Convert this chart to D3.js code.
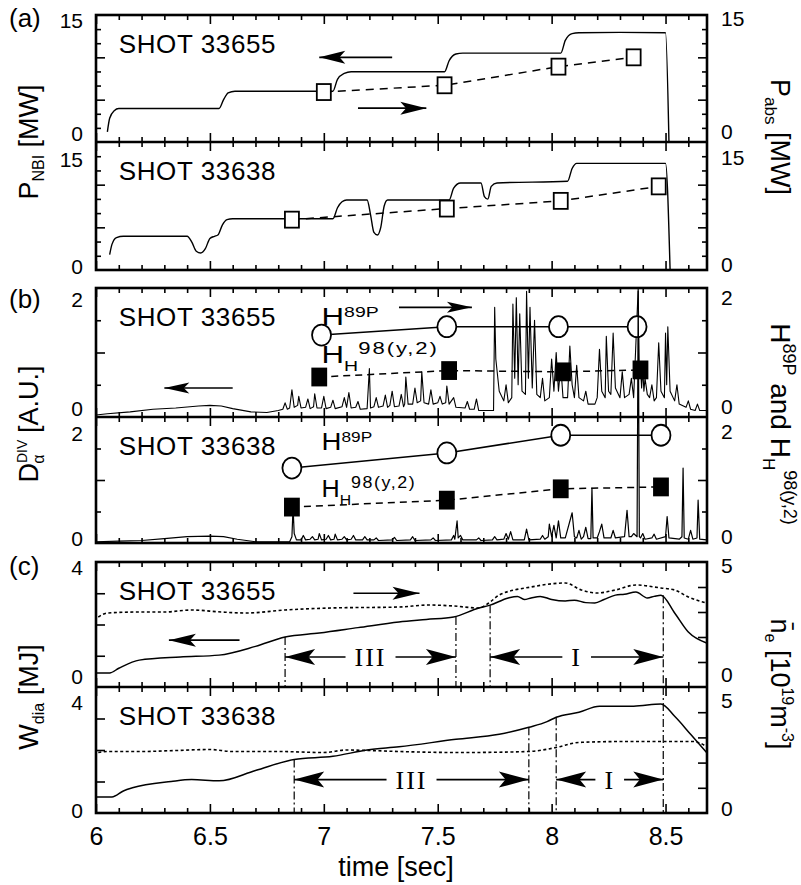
<!DOCTYPE html>
<html>
<head>
<meta charset="utf-8">
<script src="https://cdn.jsdelivr.net/npm/d3@7"></script>
<style>
body { margin: 0; background: #fff; }
text { font-family: "Liberation Sans", Arial, sans-serif; fill: #000; }
</style>
</head>
<body>
<div id="chart"></div>
<script>
// ---------------- data ----------------
const timeTicks = [6, 6.5, 7, 7.5, 8, 8.5];
const timeMinor = [6.1, 6.2, 6.3, 6.4, 6.6, 6.7, 6.8, 6.9, 7.1, 7.2, 7.3, 7.4, 7.6, 7.7, 7.8, 7.9, 8.1, 8.2, 8.3, 8.4, 8.6];
const shotNames = ["SHOT 33655", "SHOT 33638"];

const pMajor = [5, 10];
const pMinor = [1.667, 3.333, 6.667, 8.333, 11.667, 13.333];
const pLabels = [0, 15];
const hMajor = [1];
const hMinor = [0.5, 1.5];
const hLabels = [0, 2];
const wMajor = [1, 2, 3];
const wLabels = [0, 4];
const nMajor = [1, 2, 3, 4];
const nLabels = [0, 5];

// (a) NBI power [t, MW] and absorbed power
const pnbi33655 = [[6.05,1.2],[6.06,2.8],[6.08,3.7],[6.1,3.95],[6.54,3.95],[6.56,5.0],[6.58,5.8],[6.61,6.0],[7.04,6.0],[7.06,7.4],[7.09,8.1],[7.12,8.3],[7.53,8.3],[7.55,9.6],[7.58,10.4],[7.61,10.5],[8.04,10.5],[8.06,12.0],[8.09,12.8],[8.12,12.9],[8.3,12.95],[8.5,12.9],[8.515,0.0]];
const pabs33655 = [[7.0,5.9],[7.53,6.7],[8.03,8.9],[8.36,10.0]];
const pnbi33638 = [[6.06,1.8],[6.07,3.0],[6.09,3.8],[6.12,3.95],[6.4,3.95],[6.42,3.3],[6.44,2.2],[6.46,2.0],[6.48,2.5],[6.5,3.7],[6.52,3.95],[6.535,4.1],[6.555,5.3],[6.575,5.9],[6.6,6.0],[7.04,6.0],[7.06,7.3],[7.08,8.0],[7.1,8.2],[7.19,8.2],[7.205,6.5],[7.22,4.4],[7.235,4.1],[7.25,5.0],[7.265,7.5],[7.28,8.2],[7.55,8.2],[7.57,9.6],[7.6,10.2],[7.69,10.2],[7.705,8.6],[7.72,8.3],[7.735,9.8],[7.76,10.2],[8.07,10.4],[8.09,11.9],[8.11,12.5],[8.5,12.5],[8.52,0.0]];
const pabs33638 = [[6.86,5.9],[7.54,7.2],[8.04,8.1],[8.47,9.8]];

// (b) divertor D-alpha [t, A.U.] and confinement factors
const dalpha33655 = [[6.0,0.03],[6.05,0.05],[6.15,0.08],[6.25,0.12],[6.35,0.14],[6.45,0.17],[6.5,0.18],[6.55,0.17],[6.6,0.13],[6.68,0.08],[6.75,0.07],[6.8,0.1],
  [6.82,0.12],[6.83,0.22],[6.84,0.12],[6.85,0.14],[6.86,0.42],[6.87,0.15],[6.885,0.18],[6.89,0.32],[6.9,0.14],[6.92,0.15],[6.93,0.28],[6.94,0.13],
  [6.955,0.16],[6.96,0.36],[6.97,0.14],[6.99,0.14],[7.0,0.32],[7.01,0.13],[7.03,0.15],[7.04,0.26],[7.05,0.13],[7.08,0.16],[7.09,0.3],[7.1,0.15],
  [7.11,0.38],[7.12,0.14],[7.14,0.15],[7.15,0.24],[7.16,0.12],[7.19,0.13],[7.2,0.75],[7.205,0.14],[7.22,0.16],[7.23,0.3],[7.24,0.15],
  [7.26,0.17],[7.27,0.34],[7.28,0.15],[7.29,0.18],[7.3,0.4],[7.31,0.16],[7.33,0.17],[7.34,0.35],[7.35,0.16],[7.355,0.2],[7.36,0.62],[7.37,0.2],
  [7.39,0.2],[7.4,0.45],[7.41,0.22],[7.425,0.25],[7.43,0.7],[7.44,0.22],[7.46,0.2],[7.47,0.42],[7.48,0.2],[7.5,0.22],[7.51,0.32],[7.52,0.2],
  [7.535,0.22],[7.54,0.48],[7.55,0.2],[7.56,0.25],[7.57,0.3],[7.58,0.15],[7.62,0.14],[7.63,0.24],[7.64,0.12],[7.66,0.12],[7.67,0.28],[7.68,0.1],[7.745,0.1],
  [7.75,1.7],[7.755,0.9],[7.77,0.4],[7.79,0.25],[7.8,0.5],[7.81,0.22],[7.825,0.3],[7.83,1.75],[7.838,0.6],[7.845,1.85],[7.853,0.5],[7.86,1.6],[7.87,0.4],
  [7.885,0.35],[7.89,1.95],[7.898,0.6],[7.905,1.7],[7.915,0.45],[7.925,1.5],[7.935,0.35],[7.95,0.3],[7.96,0.6],[7.97,0.25],
  [7.99,0.3],[8.0,0.9],[8.01,0.4],[8.02,1.0],[8.03,0.4],[8.04,0.8],[8.05,0.3],[8.07,0.3],[8.08,1.1],[8.09,0.5],[8.1,0.3],[8.11,0.8],[8.12,0.3],
  [8.14,0.25],[8.15,0.4],[8.16,0.2],[8.19,0.2],[8.2,0.3],[8.21,1.05],[8.22,0.4],[8.235,0.3],[8.24,1.25],[8.25,0.4],[8.26,0.35],[8.27,1.3],[8.28,0.45],
  [8.3,0.3],[8.31,0.7],[8.32,0.3],[8.34,0.35],[8.35,0.6],[8.36,0.3],[8.38,2.0],[8.385,0.6],[8.39,0.8],[8.395,0.45],[8.4,0.75],[8.405,0.4],[8.41,0.6],[8.42,0.35],
  [8.43,0.3],[8.44,0.5],[8.45,0.25],[8.46,0.3],[8.47,1.15],[8.48,0.4],[8.495,0.3],[8.5,1.3],[8.505,0.5],[8.51,1.4],[8.52,0.4],
  [8.54,0.25],[8.55,0.5],[8.56,0.2],[8.59,0.15],[8.6,0.25],[8.61,0.12],[8.63,0.1],[8.64,0.2],[8.65,0.1],[8.68,0.1]];
const h89p33655 = [[6.99,1.27],[7.54,1.40],[8.03,1.40],[8.375,1.40]];
const hh98_33655 = [[6.98,0.62],[7.55,0.72],[8.05,0.70],[8.39,0.73]];

const dalpha33638 = [[6.0,0.02],[6.1,0.03],[6.2,0.04],[6.3,0.07],[6.4,0.1],[6.5,0.11],[6.56,0.1],[6.62,0.06],[6.7,0.02],[6.85,0.02],
  [6.86,0.1],[6.865,0.56],[6.87,0.15],[6.88,0.05],[6.9,0.05],[6.91,0.12],[6.92,0.05],[6.94,0.06],[6.95,0.1],[6.96,0.05],[6.975,0.06],[6.98,0.15],[6.99,0.05],
  [7.01,0.06],[7.02,0.12],[7.03,0.05],[7.045,0.06],[7.05,0.14],[7.06,0.05],[7.08,0.06],[7.09,0.1],[7.1,0.05],[7.12,0.06],[7.13,0.12],[7.14,0.05],
  [7.17,0.05],[7.18,0.1],[7.19,0.05],[7.22,0.05],[7.23,0.08],[7.24,0.04],[7.3,0.05],[7.31,0.09],[7.32,0.04],[7.38,0.05],[7.39,0.1],[7.4,0.04],
  [7.47,0.05],[7.48,0.08],[7.49,0.04],[7.56,0.05],[7.57,0.12],[7.575,0.06],[7.585,0.35],[7.59,0.08],[7.6,0.12],[7.61,0.05],
  [7.67,0.05],[7.68,0.08],[7.69,0.04],[7.74,0.05],[7.75,0.1],[7.76,0.05],[7.79,0.06],[7.8,0.15],[7.81,0.06],[7.82,0.18],[7.83,0.05],[7.88,0.05],[7.89,0.22],[7.9,0.05],
  [7.95,0.06],[7.96,0.12],[7.97,0.06],[7.985,0.1],[7.99,0.3],[8.0,0.1],[8.01,0.28],[8.02,0.08],[8.03,0.35],[8.04,0.08],[8.06,0.08],[8.09,0.48],[8.1,0.1],
  [8.11,0.08],[8.12,0.2],[8.13,0.06],[8.14,0.1],[8.15,0.25],[8.16,0.07],[8.172,0.07],[8.177,0.87],[8.182,0.08],[8.2,0.08],[8.21,0.18],[8.22,0.3],[8.23,0.08],
  [8.26,0.08],[8.27,0.2],[8.28,0.08],[8.32,0.1],[8.331,0.52],[8.34,0.1],[8.35,0.1],[8.36,0.15],[8.375,0.1],[8.38,4.0],[8.385,0.1],[8.39,0.08],[8.4,0.15],[8.41,0.06],
  [8.44,0.08],[8.45,0.14],[8.46,0.06],[8.5,0.1],[8.507,0.42],[8.515,0.08],[8.56,0.06],[8.572,0.1],[8.577,1.19],[8.582,0.08],[8.6,0.06],[8.61,0.2],[8.62,0.06],
  [8.638,0.08],[8.643,0.68],[8.65,0.06],[8.68,0.05]];
const h89p33638 = [[6.86,1.19],[7.54,1.43],[8.04,1.71],[8.48,1.71]];
const hh98_33638 = [[6.86,0.57],[7.54,0.68],[8.04,0.86],[8.48,0.89]];

// (c) diamagnetic stored energy [t, MJ] and line-averaged density [t, 1e19 m^-3]
const wdia33655 = [[6.0,0.45],[6.06,0.45],[6.1,0.6],[6.19,0.86],[6.37,0.96],[6.54,1.02],[6.7,1.3],[6.83,1.6],[6.98,1.73],[7.15,1.9],[7.33,2.08],[7.45,2.16],
  [7.57,2.24],[7.68,2.53],[7.73,2.62],[7.81,2.85],[7.85,2.9],[7.88,2.8],[7.91,2.85],[7.95,2.9],[8.0,2.8],[8.06,2.75],[8.1,2.78],[8.15,2.7],[8.19,2.69],
  [8.23,2.8],[8.28,2.94],[8.32,2.97],[8.37,3.04],[8.42,2.85],[8.45,2.9],[8.48,2.94],[8.54,2.37],[8.6,1.76],[8.68,1.41]];
const ne33655 = [[6.01,2.8],[6.05,2.96],[6.2,3.0],[6.3,3.0],[6.42,3.08],[6.55,3.0],[6.66,2.96],[6.83,3.08],[7.03,3.16],[7.33,3.2],[7.46,3.28],[7.57,3.24],
  [7.68,3.16],[7.73,3.4],[7.77,3.68],[7.91,4.0],[8.06,4.16],[8.13,3.88],[8.2,3.76],[8.28,3.88],[8.37,4.08],[8.48,3.96],[8.54,3.88],[8.6,3.6],[8.68,3.36]];
const wdia33638 = [[6.0,0.51],[6.07,0.51],[6.12,0.7],[6.16,0.8],[6.33,1.0],[6.42,1.06],[6.54,1.02],[6.7,1.35],[6.87,1.7],[7.04,1.8],[7.19,2.0],[7.33,2.1],
  [7.58,2.34],[7.77,2.5],[7.9,2.72],[7.98,2.9],[8.02,3.04],[8.12,3.2],[8.21,3.39],[8.36,3.39],[8.48,3.46],[8.54,3.07],[8.61,2.5],[8.68,1.92]];
const ne33638 = [[6.01,2.4],[6.05,2.44],[6.2,2.44],[6.35,2.48],[6.5,2.52],[6.6,2.44],[6.8,2.44],[7.0,2.4],[7.1,2.5],[7.2,2.48],[7.33,2.44],[7.6,2.4],
  [7.9,2.44],[8.02,2.6],[8.12,2.8],[8.35,2.84],[8.62,2.84],[8.68,2.64]];

// phase boundaries [t, W at top of marker line] and phase spans [label, t0, t1]
const phase33655 = [[6.83,1.6],[7.58,2.24],[7.73,2.62],[8.49,2.94]];
const phase33638 = [[6.87,1.7],[7.90,2.72],[8.02,3.04],[8.49,4.0]];
const spans33655 = [["III",6.83,7.58],["I",7.73,8.49]];
const spans33638 = [["III",6.87,7.90],["I",8.02,8.49]];

// ---------------- layout ----------------
const width = 801, height = 885;
const X0 = 96, X1 = 707;
const x = d3.scaleLinear().domain([6, 8.682]).range([X0, X1]);

const svg = d3.select("#chart").append("svg")
    .attr("width", width)
    .attr("height", height);

function panel(top, bottom, lDom, rDom) {
    return {
        top, bottom,
        yl: d3.scaleLinear().domain(lDom).range([bottom, top]),
        yr: d3.scaleLinear().domain(rDom).range([bottom, top])
    };
}
const a1 = panel(15, 142, [0, 15], [0, 15]);
const a2 = panel(142, 270, [0, 15], [0, 15]);
const b1 = panel(288, 417, [0, 2], [0, 2]);
const b2 = panel(417, 543, [0, 2], [0, 2]);
const c1 = panel(562, 687, [0, 4], [0, 5]);
const c2 = panel(687, 813, [0, 4], [0, 5]);

// ---------------- ticks ----------------
function tickAxis(axis, tr) {
    svg.append("g")
        .attr("transform", tr)
        .call(axis.tickFormat(""))
        .call(g => g.select(".domain").remove())
        .call(g => g.selectAll("line").attr("stroke", "#000").attr("stroke-width", 1.6));
}

function panelTicks(p, lMajor, lMinor, rMajor, rMinor) {
    tickAxis(d3.axisTop(x).tickValues(timeMinor).tickSize(-5), `translate(0,${p.top})`);
    tickAxis(d3.axisTop(x).tickValues(timeTicks).tickSize(-9), `translate(0,${p.top})`);
    tickAxis(d3.axisBottom(x).tickValues(timeMinor).tickSize(-5), `translate(0,${p.bottom})`);
    tickAxis(d3.axisBottom(x).tickValues(timeTicks).tickSize(-9), `translate(0,${p.bottom})`);
    tickAxis(d3.axisLeft(p.yl).tickValues(lMajor).tickSize(-9), `translate(${X0},0)`);
    tickAxis(d3.axisLeft(p.yl).tickValues(lMinor).tickSize(-5), `translate(${X0},0)`);
    tickAxis(d3.axisRight(p.yr).tickValues(rMajor).tickSize(-9), `translate(${X1},0)`);
    tickAxis(d3.axisRight(p.yr).tickValues(rMinor).tickSize(-5), `translate(${X1},0)`);
}
panelTicks(a1, pMajor, pMinor, pMajor, pMinor);
panelTicks(a2, pMajor, pMinor, pMajor, pMinor);
panelTicks(b1, hMajor, hMinor, hMajor, hMinor);
panelTicks(b2, hMajor, hMinor, hMajor, hMinor);
panelTicks(c1, wMajor, [], nMajor, []);
panelTicks(c2, wMajor, [], nMajor, []);

// tick labels, nudged inward like the original
function yLabels(p, labels, rLabels, nudge) {
    labels.forEach((v, i) => {
        svg.append("text").attr("x", 83).attr("y", p.yl(v) + nudge[i])
            .attr("text-anchor", "end").attr("dominant-baseline", "central")
            .style("font-size", "21px").text(v);
    });
    rLabels.forEach((v, i) => {
        svg.append("text").attr("x", 721).attr("y", p.yr(v) + nudge[i] - 2)
            .attr("dominant-baseline", "central")
            .style("font-size", "21px").text(v);
    });
}
yLabels(a1, pLabels, pLabels, [-9, 5]);
yLabels(a2, pLabels, pLabels, [-4, 17]);
yLabels(b1, hLabels, hLabels, [-9, 11]);
yLabels(b2, hLabels, hLabels, [-5, 16]);
yLabels(c1, wLabels, nLabels, [-11, 5]);
yLabels(c2, wLabels, nLabels, [-3, 15]);

svg.append("g")
    .attr("transform", `translate(0,${c2.bottom})`)
    .call(d3.axisBottom(x).tickValues(timeTicks).tickSize(0).tickPadding(14).tickFormat(d3.format("")))
    .call(g => g.select(".domain").remove())
    .call(g => g.selectAll("text").style("font-size", "25px")
        .style("font-family", "'Liberation Sans', Arial, sans-serif"));

svg.append("text").attr("x", 396).attr("y", 876).attr("text-anchor", "middle")
    .style("font-size", "27px").text("time [sec]");

// ---------------- frames ----------------
[[a1, a2], [b1, b2], [c1, c2]].forEach(([p, q]) => {
    svg.append("rect").attr("x", X0).attr("y", p.top)
        .attr("width", X1 - X0).attr("height", q.bottom - p.top)
        .attr("fill", "none").attr("stroke", "#000").attr("stroke-width", 2.6);
    svg.append("line").attr("x1", X0).attr("x2", X1)
        .attr("y1", p.bottom).attr("y2", p.bottom)
        .attr("stroke", "#000").attr("stroke-width", 2.4);
});

// ---------------- marks ----------------
function drawLine(p, data, side, opts) {
    const y = side === "r" ? p.yr : p.yl;
    const line = d3.line().x(d => x(d[0])).y(d => y(d[1]));
    if (opts.curve) line.curve(opts.curve);
    svg.append("path")
        .datum(data)
        .attr("d", line)
        .attr("fill", "none")
        .attr("stroke", "#000")
        .attr("stroke-width", opts.width || 1.4)
        .attr("stroke-dasharray", opts.dash || null)
        .attr("stroke-linejoin", "round");
}

function squares(p, data, side, filled, w, h) {
    const y = side === "r" ? p.yr : p.yl;
    svg.append("g").selectAll("rect").data(data).join("rect")
        .attr("x", d => x(d[0]) - w / 2).attr("y", d => y(d[1]) - h / 2)
        .attr("width", w).attr("height", h)
        .attr("fill", filled ? "#000" : "#fff")
        .attr("stroke", "#000").attr("stroke-width", 1.8);
}

function circles(p, data) {
    svg.append("g").selectAll("ellipse").data(data).join("ellipse")
        .attr("cx", d => x(d[0])).attr("cy", d => p.yr(d[1]))
        .attr("rx", 9.5).attr("ry", 10.5)
        .attr("fill", "#fff").attr("stroke", "#000").attr("stroke-width", 1.8);
}

function arrowHead(px, py, dir, L, hw) {
    svg.append("path")
        .attr("d", `M0,0L${-L},${-hw}L${-L * 0.78},0L${-L},${hw}Z`)
        .attr("transform", `translate(${px},${py}) scale(${dir},1)`)
        .attr("fill", "#000");
}

// arrow from t0 to tip at t1, at value v on panel's left scale
function arrow(p, t0, t1, v, L, hw) {
    const y = p.yl(v);
    svg.append("line").attr("x1", x(t0)).attr("x2", x(t1))
        .attr("y1", y).attr("y2", y)
        .attr("stroke", "#000").attr("stroke-width", 1.6);
    arrowHead(x(t1), y, t1 > t0 ? 1 : -1, L, hw);
}

function shotLabel(p, name) {
    svg.append("text").attr("x", x(6.1)).attr("y", p.top + 38)
        .style("font-size", "26px").style("letter-spacing", "0.6px").text(name);
}

// (a)
drawLine(a1, pnbi33655, "l", {curve: d3.curveMonotoneX});
drawLine(a1, pabs33655, "r", {dash: "8,6", width: 1.5});
squares(a1, pabs33655, "r", false, 14, 16);
drawLine(a2, pnbi33638, "l", {curve: d3.curveMonotoneX});
drawLine(a2, pabs33638, "r", {dash: "8,6", width: 1.5});
squares(a2, pabs33638, "r", false, 14, 16);
arrow(a1, 7.30, 6.98, 10.0, 26, 6.5);
arrow(a1, 7.15, 7.45, 4.0, 26, 6.5);
shotLabel(a1, shotNames[0]);
shotLabel(a2, shotNames[1]);

// (b)
drawLine(b1, dalpha33655, "l", {width: 1.1});
drawLine(b1, h89p33655, "r", {width: 1.5});
drawLine(b1, hh98_33655, "r", {dash: "7,5", width: 1.5});
circles(b1, h89p33655);
squares(b1, hh98_33655, "r", true, 14, 17);
drawLine(b2, dalpha33638, "l", {width: 1.2});
drawLine(b2, h89p33638, "r", {width: 1.5});
drawLine(b2, hh98_33638, "r", {dash: "7,5", width: 1.5});
circles(b2, h89p33638);
squares(b2, hh98_33638, "r", true, 14, 17);
arrow(b1, 6.60, 6.30, 0.45, 25, 5.5);
arrow(b1, 7.33, 7.65, 1.7, 25, 5.5);
shotLabel(b1, shotNames[0]);
shotLabel(b2, shotNames[1]);

// H-factor labels; the original lettering is drawn wide, so stretch it horizontally
function hLabelsText(p, t, v89, v98, sx, sx98) {
    const g1 = svg.append("g").attr("transform", `translate(${x(t)},${p.yr(v89)}) scale(${sx},1)`);
    const t1 = g1.append("text").style("font-size", "24px");
    t1.append("tspan").text("H");
    t1.append("tspan").attr("dy", -8).style("font-size", "15px").text("89P");
    const g2 = svg.append("g").attr("transform", `translate(${x(t)},${p.yr(v98)}) scale(${sx98},1)`);
    const t2 = g2.append("text").style("font-size", "24px");
    t2.append("tspan").text("H");
    t2.append("tspan").attr("dy", 8).style("font-size", "15px").text("H");
    t2.append("tspan").attr("dy", -17).style("font-size", "17px")
        .style("letter-spacing", "1.5px").text("98(y,2)");
}
hLabelsText(b1, 6.99, 1.43, 0.84, 1.3, 1.3);
hLabelsText(b2, 6.99, 1.48, 0.73, 1.15, 1.05);

// (c)
drawLine(c1, wdia33655, "l", {curve: d3.curveMonotoneX, width: 1.5});
drawLine(c1, ne33655, "r", {curve: d3.curveMonotoneX, dash: "3,2.5", width: 1.6});
drawLine(c2, wdia33638, "l", {curve: d3.curveMonotoneX, width: 1.5});
drawLine(c2, ne33638, "r", {curve: d3.curveMonotoneX, dash: "3,2.5", width: 1.6});
shotLabel(c1, shotNames[0]);
shotLabel(c2, shotNames[1]);
arrow(c1, 6.63, 6.32, 1.5, 27, 6.5);
arrow(c1, 7.13, 7.42, 3.0, 27, 6.5);

function phases(p, bounds, spans, v) {
    bounds.forEach(d => {
        svg.append("line").attr("x1", x(d[0])).attr("x2", x(d[0]))
            .attr("y1", p.yl(d[1])).attr("y2", p.bottom)
            .attr("stroke", "#000").attr("stroke-width", 1.2)
            .attr("stroke-dasharray", "8,3,2,3");
    });
    spans.forEach(([lab, t0, t1]) => {
        const y = p.yl(v), mid = (x(t0) + x(t1)) / 2;
        const txt = svg.append("text").attr("x", mid).attr("y", y + 9)
            .attr("text-anchor", "middle")
            .style("font-family", "'Liberation Serif', 'Times New Roman', serif")
            .style("font-size", "26px").style("letter-spacing", "2px").text(lab);
        const half = txt.node().getComputedTextLength() / 2 + 9;
        [[x(t0), mid - half], [mid + half, x(t1)]].forEach(([u0, u1]) => {
            svg.append("line").attr("x1", u0).attr("x2", u1).attr("y1", y).attr("y2", y)
                .attr("stroke", "#000").attr("stroke-width", 1.6);
        });
        arrowHead(x(t0), y, -1, 30, 8);
        arrowHead(x(t1), y, 1, 30, 8);
    });
}
phases(c1, phase33655, spans33655, 0.96);
phases(c2, phase33638, spans33638, 1.06);

// ---------------- panel letters and axis titles ----------------
[["(a)", 27], ["(b)", 308], ["(c)", 575]].forEach(([s, y]) => {
    svg.append("text").attr("x", 9).attr("y", y).style("font-size", "26px").text(s);
});

function vTitle(cx, cy, rot, size, parts) {
    const t = svg.append("text")
        .attr("transform", `translate(${cx},${cy}) rotate(${rot})`)
        .attr("text-anchor", "middle")
        .style("font-size", size + "px");
    parts.forEach(([s, sz, dy, dx]) => {
        const ts = t.append("tspan").text(s);
        if (sz) ts.style("font-size", sz + "px");
        if (dy) ts.attr("dy", dy);
        if (dx) ts.attr("dx", dx);
    });
}
vTitle(38, 142, -90, 27, [["P"], ["NBI", 16, 6], [" [MW]", null, -6]]);
vTitle(771, 137, 90, 27, [["P"], ["abs", 17, 6], [" [MW]", null, -6]]);
vTitle(38, 424, -90, 27, [["D"], ["DIV", 14, -11], ["\u03b1", 16, 17, -24], [" [A.U.]", null, -6, 14]]);
vTitle(771, 424, 90, 28, [["H"], ["89P", 18, -12], [" and H", null, 12], ["H", 17, 8], ["98(y,2)", 18, -21]]);
vTitle(38, 697, -90, 27, [["W"], ["dia", 16, 6], [" [MJ]", null, -6]]);
vTitle(771, 684, 90, 27, [["n\u0304"], ["e", 16, 6], [" [10", null, -6], ["19", 16, -11], ["m", null, 11], ["-3", 16, -11], ["]", null, 11]]);
</script>
</body>
</html>
